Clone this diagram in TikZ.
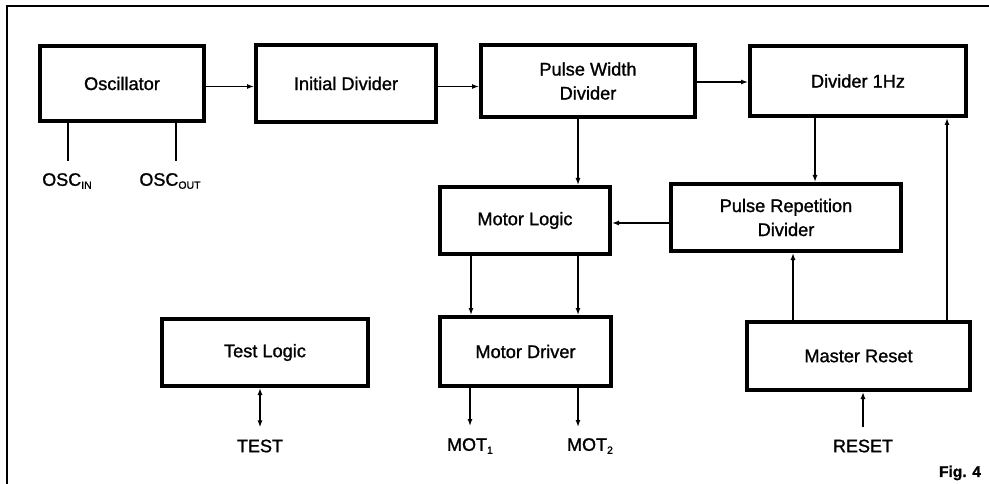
\documentclass[tikz,border=0pt]{standalone}
\usepackage{fontspec}
\setmainfont{Liberation Sans}[FakeBold=1.2]
\usetikzlibrary{arrows.meta}
\newcommand\lowtxt[1]{\raisebox{-3pt}{\fontsize{10.5}{10}\selectfont #1}}
\tikzset{
  blk/.style={draw, line width=4pt, inner sep=0pt, align=center,
    font=\fontsize{18.2}{24}\selectfont},
  lbl/.style={inner sep=0pt, font=\fontsize{18}{20}\selectfont},
  conn/.style={line width=1.3pt},
  arr/.style={conn, -{Latex[length=7pt,width=5pt]}},
  darr/.style={conn, {Latex[length=7pt,width=5pt]}-{Latex[length=7pt,width=5pt]}},
  frame/.style={line width=2.5pt}
}
\begin{document}
\begin{tikzpicture}[x=1pt,y=-1pt]
\useasboundingbox (0,0) rectangle (989,484);
\fill[white] (0,0) rectangle (989,484);
% frame (top and left edges)
\draw[frame] (7,489) -- (7,6) -- (994,6);

\node[blk, minimum width=164pt, minimum height=75pt] (osc)  at (122,83.5) {Oscillator};
\node[blk, minimum width=180pt, minimum height=77pt] (init) at (346,83.5) {Initial Divider};
\node[blk, minimum width=214pt, minimum height=72pt] (pwd)  at (588,81) {Pulse Width\\Divider};
\node[blk, minimum width=216pt, minimum height=70pt] (div)  at (858,81) {Divider 1Hz};
\node[blk, minimum width=170pt, minimum height=67pt] (ml)   at (525,220.5) {Motor Logic};
\node[blk, minimum width=230pt, minimum height=67pt] (prd)  at (786,217.5) {Pulse Repetition\\Divider};
\node[blk, minimum width=206pt, minimum height=67pt] (test) at (265,352.5) {Test Logic};
\node[blk, minimum width=171pt, minimum height=69pt] (md)   at (525.5,351.5) {Motor Driver};
\node[blk, minimum width=223pt, minimum height=68pt] (mr)   at (858.5,356) {Master Reset};

\node[lbl] (oscin)  at (67,181)  {OSC\lowtxt{IN}};
\node[lbl] (oscout) at (170,181) {OSC\lowtxt{OUT}};
\node[lbl] (mot1)   at (470,446) {MOT\lowtxt{1}};
\node[lbl] (mot2)   at (590,446) {MOT\lowtxt{2}};
\node[lbl] (tst)    at (260,446) {TEST};
\node[lbl] (rst)    at (863,446) {RESET};
\node[lbl, font=\bfseries\fontsize{15.5}{18}\selectfont] (fig) at (960,473) {Fig. 4};

% oscillator pins
\draw[conn] ([xshift=-54pt]osc.south) -- ([xshift=-54pt]osc.south |- 0,161);
\draw[conn] ([xshift=54pt]osc.south) -- ([xshift=54pt]osc.south |- 0,161);

% top chain
\draw[arr] ([yshift=-3pt]osc.east) -- ([yshift=-3pt]osc.east -| init.west);
\draw[arr] ([yshift=-3pt]init.east) -- ([yshift=-3pt]init.east -| pwd.west);
\draw[arr] ([yshift=-1pt]pwd.east) -- ([yshift=-1pt]pwd.east -| div.west);

% verticals
\draw[arr] ([xshift=-10pt]pwd.south) -- ([xshift=-10pt]pwd.south |- ml.north);
\draw[arr] ([xshift=-43pt]div.south) -- ([xshift=-43pt]div.south |- prd.north);
\draw[arr] ([yshift=-5.5pt]prd.west) -- ([yshift=-5.5pt]prd.west -| ml.east);
\draw[arr] ([xshift=-54pt]ml.south) -- ([xshift=-54pt]ml.south |- md.north);
\draw[arr] ([xshift=53pt]ml.south) -- ([xshift=53pt]ml.south |- md.north);

% outputs
\draw[arr] (md.south -| mot1) -- ([yshift=12pt]mot1.north);
\draw[arr] ([xshift=52.5pt]md.south) -- ([xshift=52.5pt]md.south |- 0,427);
\draw[darr] (test.south -| tst) -- ([yshift=12pt]tst.north);
\draw[arr] ([yshift=12pt]rst.north) -- (rst |- mr.south);

% master reset
\draw[arr] ([xshift=-65.5pt]mr.north) -- ([xshift=-65.5pt]mr.north |- prd.south);
\draw[arr] ([xshift=88.5pt]mr.north) -- ([xshift=88.5pt]mr.north |- div.south);
\end{tikzpicture}
\end{document}
